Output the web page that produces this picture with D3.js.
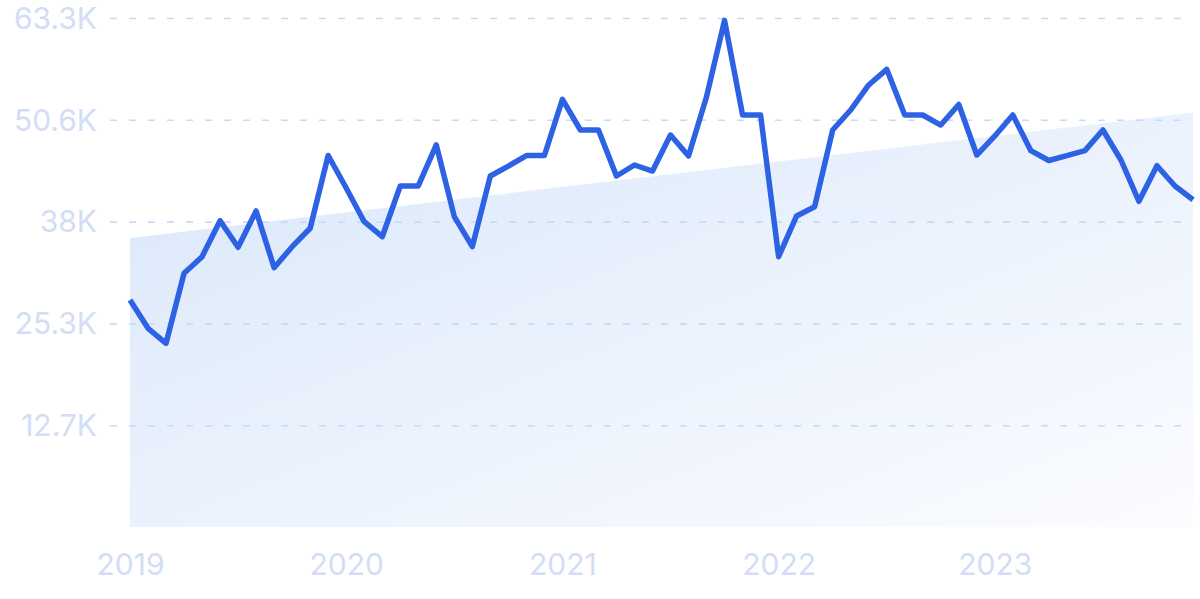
<!DOCTYPE html>
<html>
<head>
<meta charset="utf-8">
<script src="https://cdn.jsdelivr.net/npm/d3@7"></script>
<style>
  html, body { margin: 0; padding: 0; background: #ffffff; }
  svg { display: block; }
</style>
</head>
<body>
<svg id="chart" width="1200" height="599"></svg>
<script>
// Monthly values, Jan 2019 .. Dec 2023
const months = d3.range(60).map(i => `${2019 + Math.floor(i / 12)}-${String(i % 12 + 1).padStart(2, "0")}`);
const values = [
  28230, 24710, 22850, 31550, 33620, 38090, 34780, 39300, 32250, 34860, 37150, 46200,
  42160, 37970, 36100, 42410, 42410, 47510, 38590, 34860, 43650, 44890, 46200, 46200,
  53190, 49370, 49370, 43650, 45020, 44270, 48750, 46140, 53510, 63000, 51240, 51240,
  33620, 38680, 39830, 49370, 51860, 54970, 56920, 51240, 51240, 49990, 52540, 46260,
  48630, 51240, 46800, 45580, 46180, 46800, 49370, 45640, 40500, 44930, 42410, 40700
];
// Trend band (start and end values)
const trendValues = [35940, 51550];
const yTicks = [12660, 25320, 37980, 50640, 63300];
const yTickLabels = ["12.7K", "25.3K", "38K", "50.6K", "63.3K"];
const xTickIndex = [0, 12, 24, 36, 48];
const xTickLabels = ["2019", "2020", "2021", "2022", "2023"];

const svg = d3.select("#chart");
const x = d3.scaleLinear().domain([0, values.length - 1]).range([130, 1193]);
const y = d3.scaleLinear().domain([0, 63300]).range([527, 18]);

// gradient
const defs = svg.append("defs");
const grad = defs.append("linearGradient").attr("id", "areaGrad")
  .attr("x1", "0").attr("y1", "0").attr("x2", "1").attr("y2", "1");
grad.append("stop").attr("offset", "0%").attr("stop-color", "#d9e7fa");
grad.append("stop").attr("offset", "60%").attr("stop-color", "#eef4fd");
grad.append("stop").attr("offset", "100%").attr("stop-color", "#fbfcff");

// trend area
const trendData = [
  { i: 0, v: trendValues[0] },
  { i: values.length - 1, v: trendValues[1] }
];
svg.append("path")
  .datum(trendData)
  .attr("fill", "url(#areaGrad)")
  .attr("d", d3.area().x(d => x(d.i)).y0(y(0)).y1(d => y(d.v)));

// grid
const yAxis = d3.axisLeft(y).tickValues(yTicks).tickSize(0).tickFormat((d, i) => yTickLabels[i]);
const gy = svg.append("g").attr("transform", "translate(110,0)").call(yAxis);
gy.select(".domain").remove();
gy.selectAll(".tick line")
  .attr("x2", 1078)
  .attr("stroke", "#c6dafa")
  .attr("stroke-width", 1.6)
  .attr("stroke-dasharray", "7,12");
gy.selectAll(".tick text")
  .attr("x", -13)
  .attr("dy", "0.34em")
  .attr("fill", "#d3ddf5")
  .style("font-family", "Inter, 'Noto Sans', sans-serif")
  .style("font-size", "30px")
  .style("font-weight", "400");

// x axis
const xAxis = d3.axisBottom(x).tickValues(xTickIndex).tickSize(0).tickFormat((d, i) => xTickLabels[i]);
const gx = svg.append("g").attr("transform", "translate(0,527)").call(xAxis);
gx.select(".domain").remove();
gx.selectAll(".tick text")
  .attr("y", 48)
  .attr("dy", "0")
  .attr("fill", "#d3ddf5")
  .style("font-family", "Inter, 'Noto Sans', sans-serif")
  .style("font-size", "30px")
  .style("font-weight", "400");

// line
svg.append("path")
  .datum(values)
  .attr("fill", "none")
  .attr("stroke", "#2e62e4")
  .attr("stroke-width", 5.5)
  .attr("stroke-linejoin", "round")
  .attr("stroke-linecap", "butt")
  .attr("d", d3.line().x((d, i) => x(i)).y(d => y(d)));
</script>
</body>
</html>
